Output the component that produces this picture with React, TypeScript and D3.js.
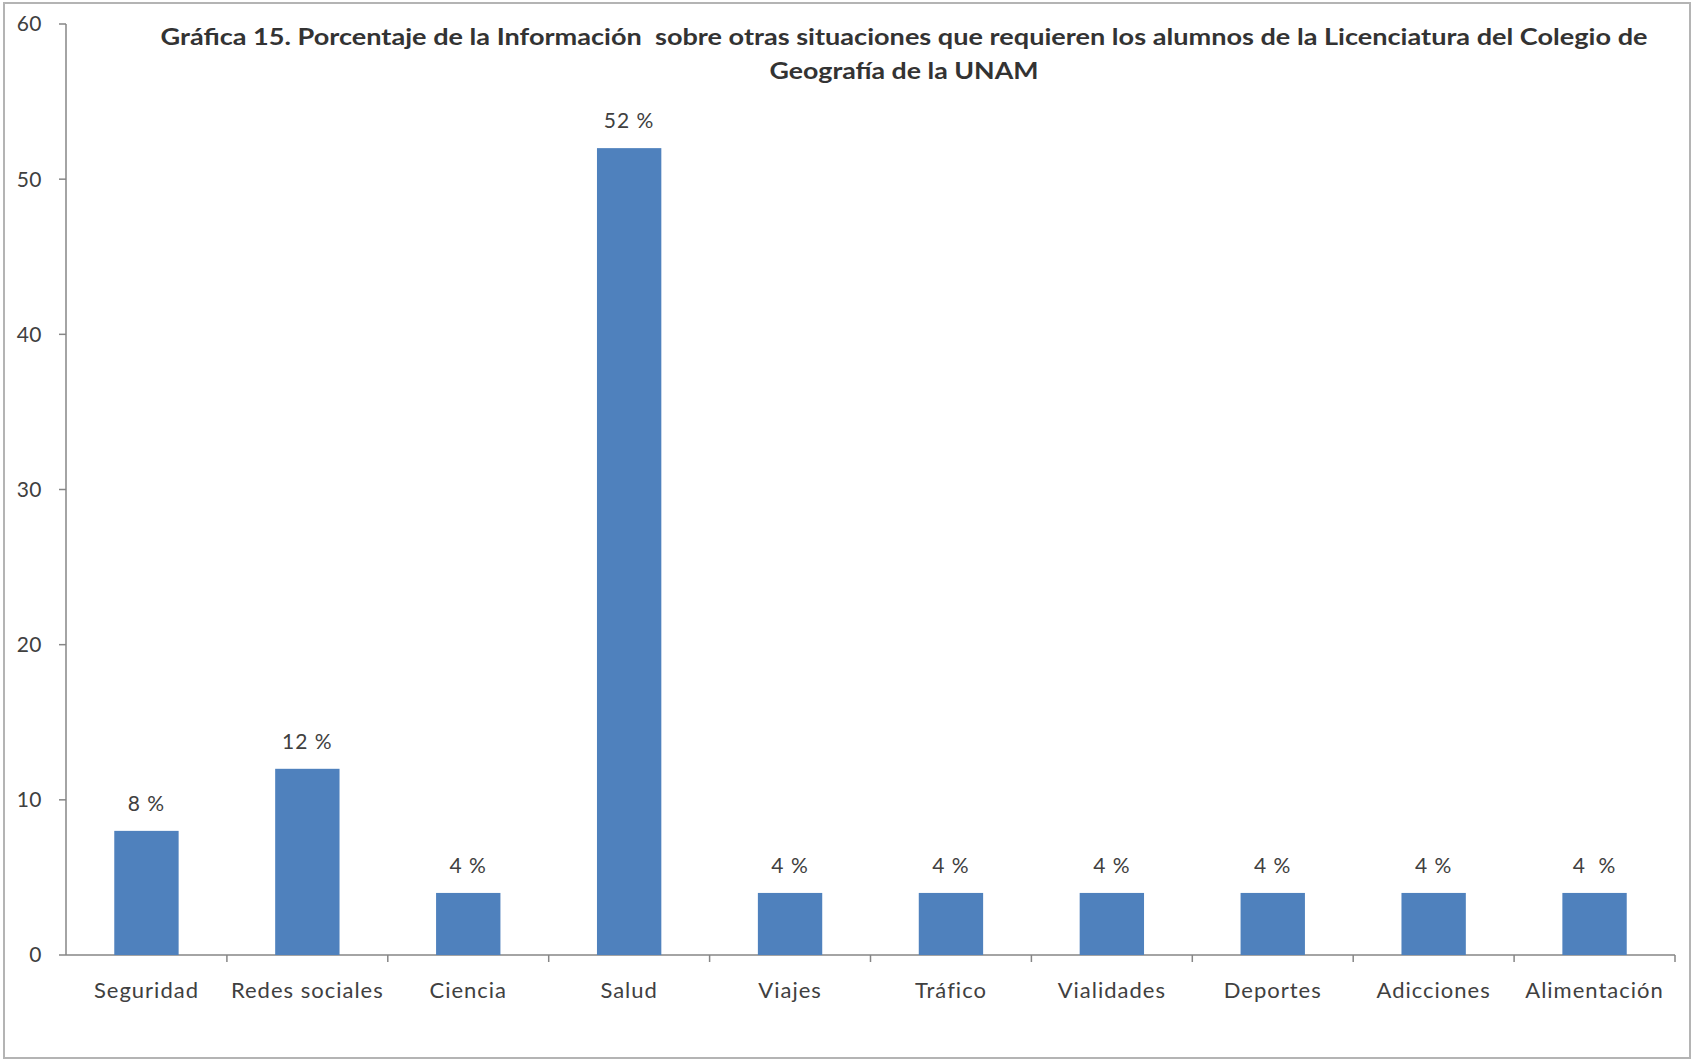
import React from 'react';
import { scaleBand, scaleLinear } from 'd3';

const categories = ['Seguridad', 'Redes sociales', 'Ciencia', 'Salud', 'Viajes', 'Tráfico', 'Vialidades', 'Deportes', 'Adicciones', 'Alimentación'];
const values = [8, 12, 4, 52, 4, 4, 4, 4, 4, 4];
const valueLabels = ['8 %', '12 %', '4 %', '52 %', '4 %', '4 %', '4 %', '4 %', '4 %', '4  %'];
const yTicks = [0, 10, 20, 30, 40, 50, 60];
const titleLines = [
    'Gráfica 15. Porcentaje de la Información  sobre otras situaciones que requieren los alumnos de la Licenciatura del Colegio de',
    'Geografía de la UNAM'
];

const App = () => {
    const width = 1699
    const height = 1061
    const marginLeft = 66
    const marginRight = 24
    const marginTop = 24
    const marginBottom = 106
    const axisColor = '#868686'
    const textColor = '#404040'
    const font = 'Lato, "Open Sans", sans-serif'

    const xScale = scaleBand()
        .domain(categories)
        .range([marginLeft, width - marginRight])
        .paddingInner(0.6)
        .paddingOuter(0.3)

    // band edges for the category tick marks
    const step = xScale.step()
    const x0 = marginLeft

    const yScale = scaleLinear()
        .domain([0, 60])
        .range([height - marginBottom, marginTop])

    const yZero = yScale(0)

    return (
        <svg width={width} height={height} style={{ position: 'absolute', left: 0, top: 0, background: '#fff' }}>
            <rect x={4} y={3} width={1686} height={1055} fill="#fff" stroke="#b4b4b4" strokeWidth={2} />

            {titleLines.map((line, i) =>
                <text
                    key={`title-${i}`}
                    x={904}
                    y={45 + i * 34}
                    textAnchor="middle"
                    fontFamily={font}
                    fontWeight="bold"
                    fontSize={22}
                    fill="#333"
                    style={{ whiteSpace: 'pre' }}
                    textLength={i === 0 ? 1487 : 269}
                    lengthAdjust="spacingAndGlyphs"
                >
                    {line}
                </text>
            )}

            {/* y axis */}
            <line x1={x0} x2={x0} y1={yScale(60)} y2={yZero} stroke={axisColor} strokeWidth={1.5} />
            {yTicks.map(t =>
                <g key={`y-${t}`} transform={`translate(0, ${yScale(t)})`}>
                    <line x1={x0 - 7} x2={x0} stroke={axisColor} strokeWidth={1.5} />
                    <text
                        x={42}
                        dy="0.35em"
                        textAnchor="end"
                        fontFamily={font}
                        fontSize={21}
                        letterSpacing={0.5}
                        fill={textColor}
                    >
                        {t}
                    </text>
                </g>
            )}

            {/* x axis */}
            <line x1={x0} x2={x0 + step * categories.length} y1={yZero} y2={yZero} stroke={axisColor} strokeWidth={1.5} />
            {categories.map((c, i) =>
                <line
                    key={`xt-${c}`}
                    x1={x0 + step * (i + 1)}
                    x2={x0 + step * (i + 1)}
                    y1={yZero}
                    y2={yZero + 7}
                    stroke={axisColor}
                    strokeWidth={1.5}
                />
            )}

            {categories.map((c, i) =>
                <g key={`bar-${c}`}>
                    <rect
                        x={xScale(c)}
                        y={yScale(values[i])}
                        width={xScale.bandwidth()}
                        height={yZero - yScale(values[i])}
                        fill="#4f81bd"
                    />
                    <text
                        x={xScale(c) + xScale.bandwidth() / 2}
                        y={yScale(values[i]) - 20}
                        textAnchor="middle"
                        fontFamily={font}
                        fontSize={21}
                        letterSpacing={1}
                        fill={textColor}
                        style={{ whiteSpace: 'pre' }}
                    >
                        {valueLabels[i]}
                    </text>
                    <text
                        x={xScale(c) + xScale.bandwidth() / 2}
                        y={998}
                        textAnchor="middle"
                        fontFamily={font}
                        fontSize={22}
                        letterSpacing={1}
                        fill={textColor}
                    >
                        {c}
                    </text>
                </g>
            )}
        </svg>
    )
}

export default App
